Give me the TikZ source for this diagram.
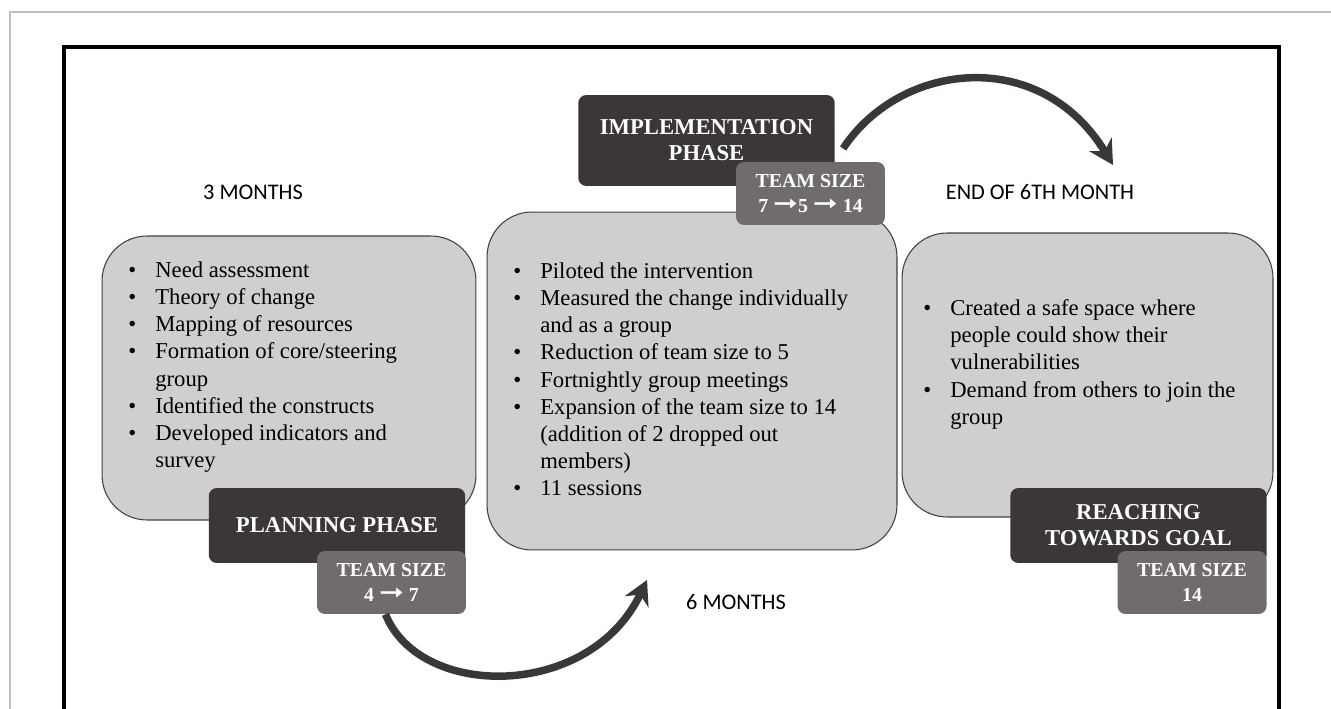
\documentclass[tikz,border=0pt]{standalone}
\usepackage{fontspec}
\usepackage{graphicx}
\setmainfont{Liberation Serif}
\newfontfamily\calfont{Carlito}
\newfontfamily\symfont{DejaVu Sans}
\usetikzlibrary{arrows.meta, positioning}

\definecolor{boxgray}{HTML}{D0CECF}
\definecolor{darkphase}{HTML}{3B3737}
\definecolor{teamgray}{HTML}{716C6C}
\definecolor{arrowgray}{HTML}{3A3737}
\definecolor{framegray}{HTML}{BFBFBF}

\newcommand{\itm}[1]{\makebox[0.54cm][l]{\textbullet}#1}
\newcommand{\cnt}[1]{\hspace*{0.54cm}#1}
\newcommand{\tsarr}{\raisebox{0.2ex}{\scalebox{1.5}[1.2]{\symfont ➞}}}

\begin{document}
\begin{tikzpicture}[x=0.02cm, y=-0.02cm,
    phasebox/.style={draw=black!75, fill=boxgray, rounded corners=0.9cm, line width=0.6pt},
    darkbox/.style={fill=darkphase, rounded corners=0.16cm, text=white, align=center, minimum width=5.13cm, font={\fontsize{12.9}{14.7}\selectfont\bfseries}},
    teambox/.style={fill=teamgray, rounded corners=0.16cm, text=white, align=center, minimum width=2.98cm, minimum height=1.26cm, font={\fontsize{11.3}{14.7}\selectfont\bfseries}},
    listtext/.style={anchor=north west, inner sep=0pt, align=left, font={\fontsize{12.9}{15.5}\selectfont}},
    monthlbl/.style={font={\calfont\fontsize{12.7}{15}\selectfont}},
    arr/.style={-{Stealth[length=0.48cm, width=0.52cm]}, line width=0.15cm, draw=arrowgray}
]
\clip (0,0) rectangle (1331,709);
\fill[white] (0,0) rectangle (1331,709);

% frames
\draw[framegray, line width=1pt] (10,720) -- (10,12) -- (1340,12);
\draw[black, line width=0.08cm] (64,720) -- (64,47) -- (1279,47) -- (1279,720);

% phase boxes
\node[phasebox, minimum width=7.48cm, minimum height=5.68cm] (plan) at (289,378) {};
\node[phasebox, minimum width=8.2cm, minimum height=6.76cm] (impl) at (692,381) {};
\node[phasebox, minimum width=7.42cm, minimum height=5.68cm] (goal) at (1087.5,375) {};

% lists
\node[listtext] (plantxt) at (128,261) {\itm{Need assessment}\\
  \itm{Theory of change}\\
  \itm{Mapping of resources}\\
  \itm{Formation of core/steering}\\
  \cnt{group}\\
  \itm{Identified the constructs}\\
  \itm{Developed indicators and}\\
  \cnt{survey}};
\node[listtext] (impltxt) at (513,262) {\itm{Piloted the intervention}\\
  \itm{Measured the change individually}\\
  \cnt{and as a group}\\
  \itm{Reduction of team size to 5}\\
  \itm{Fortnightly group meetings}\\
  \itm{Expansion of the team size to 14}\\
  \cnt{(addition of 2 dropped out}\\
  \cnt{members)}\\
  \itm{11 sessions}};
\node[listtext] (goaltxt) at (923,299) {\itm{Created a safe space where}\\
  \cnt{people could show their}\\
  \cnt{vulnerabilities}\\
  \itm{Demand from others to join the}\\
  \cnt{group}};

% phase titles
\node[darkbox, minimum height=1.5cm] (plantitle) at (337,525.5) {PLANNING PHASE};
\node[darkbox, minimum height=1.82cm] (impltitle) at (706.5,140.5) {IMPLEMENTATION\\PHASE};
\node[darkbox, minimum height=1.5cm] (goaltitle) at (1138.5,525.5) {REACHING\\TOWARDS GOAL};

% team sizes
\node[teambox] (planteam) at (391.5,582.5) {TEAM SIZE\\4 \tsarr{} 7};
\node[teambox] (implteam) at (810.5,193.5) {TEAM SIZE\\7 \tsarr{}5 \tsarr{} 14};
\node[teambox] (goalteam) at (1192,582.5) {TEAM SIZE\\14};

% time labels
\node[monthlbl] (m3) at (253,192) {3 MONTHS};
\node[monthlbl] (m6) at (736,602) {6 MONTHS};
\node[monthlbl] (m6end) at (1040,192) {END OF 6TH MONTH};

% arrows
\coordinate (topend) at (1113,165);
\coordinate (botend) at (647,580);
\draw[arr] ([shift={(8,8)}]impltitle.east) .. controls (900,62) and (1040,45) .. (topend);
\draw[arr] ([shift={(-6,0)}]planteam.south) .. controls (420,700) and (590,700) .. (botend);
\end{tikzpicture}
\end{document}
